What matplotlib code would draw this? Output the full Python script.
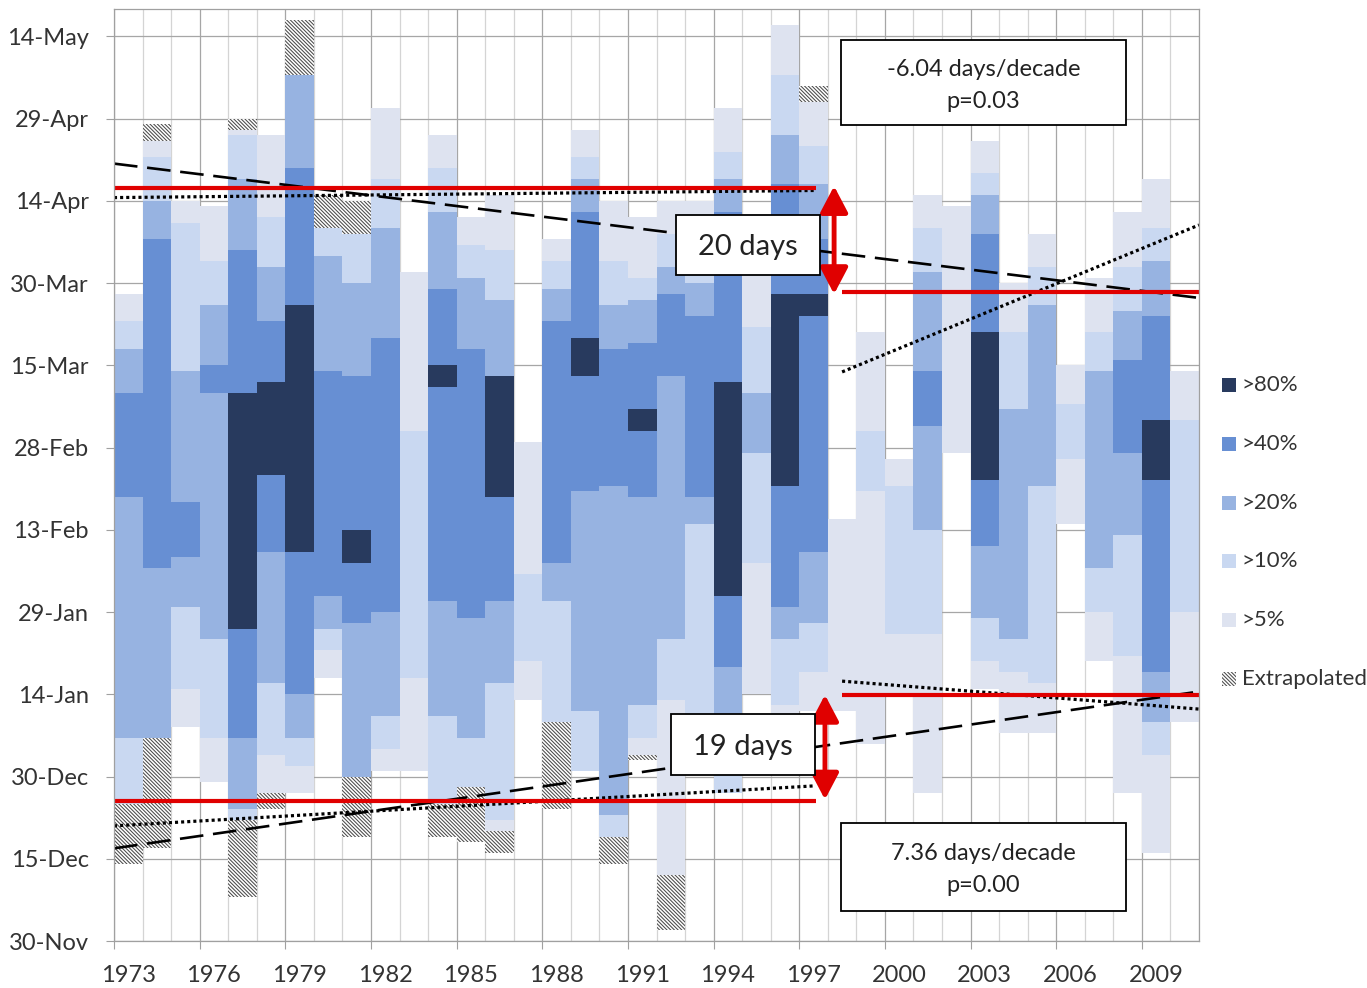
import matplotlib
matplotlib.use('Agg')
import matplotlib.pyplot as plt
from matplotlib.patches import Rectangle, FancyArrowPatch
import numpy as np

plt.rcParams['font.family'] = ['Lato', 'DejaVu Sans']
plt.rcParams['hatch.linewidth'] = 0.75
plt.rcParams['lines.scale_dashes'] = False

# ---------------- data ----------------
# y values are days after 30 November
date_ticks = [0, 15, 30, 45, 60, 75, 90, 105, 120, 135, 150, 165]
date_labels = ['30-Nov', '15-Dec', '30-Dec', '14-Jan', '29-Jan', '13-Feb',
               '28-Feb', '15-Mar', '30-Mar', '14-Apr', '29-Apr', '14-May']
year_labels = list(range(1973, 2010, 3))
years = list(range(1973, 2011))

level_names = {80: '>80%', 40: '>40%', 20: '>20%', 10: '>10%', 5: '>5%', 'E': 'Extrapolated'}
level_colors = {80: '#283a5e', 40: '#678fd3', 20: '#97b3e1', 10: '#c9d8f1', 5: '#dee3f0', 'E': 'white'}

# per year: segment edges from top to bottom (days), and level of each segment
e1973 = [118, 113, 108, 100, 81, 37, 25, 14];                 l1973 = [5, 10, 20, 40, 20, 10, 'E']
e1974 = [149, 146, 143, 135, 128, 68, 37, 17];                l1974 = ['E', 5, 10, 20, 40, 20, 'E']
e1975 = [135, 131, 104, 80, 70, 61, 46, 39];                  l1975 = [5, 10, 20, 40, 20, 10, 5]
e1976 = [134, 124, 116, 105, 100, 55, 37, 29];                l1976 = [5, 10, 20, 40, 20, 10, 5]
e1977 = [150, 148, 147, 139, 126, 100, 57, 37, 24, 22, 8];    l1977 = ['E', 5, 10, 20, 40, 80, 40, 20, 10, 'E']
e1978 = [147, 132, 123, 113, 102, 85, 71, 47, 34, 27, 24];    l1978 = [5, 10, 20, 40, 80, 40, 20, 10, 5, 'E']
e1979 = [168, 158, 141, 116, 71, 45, 37, 32, 27];             l1979 = ['E', 20, 40, 80, 40, 20, 10, 5]
e1980 = [136, 130, 125, 104, 63, 57, 53, 48];                 l1980 = ['E', 10, 20, 40, 20, 10, 5]
e1981 = [135, 129, 120, 103, 75, 69, 58, 30, 19];             l1981 = ['E', 10, 20, 40, 80, 40, 20, 'E']
e1982 = [152, 139, 130, 110, 60, 41, 35, 31];                 l1982 = [5, 10, 20, 40, 20, 10, 5]
e1983 = [122, 93, 48, 31];                                    l1983 = [5, 10, 5]
e1984 = [147, 141, 133, 119, 105, 101, 62, 41, 25, 19];       l1984 = [5, 10, 20, 40, 80, 40, 20, 10, 'E']
e1985 = [132, 127, 121, 108, 59, 37, 28, 18];                 l1985 = [5, 10, 20, 40, 20, 10, 'E']
e1986 = [136, 126, 117, 103, 81, 62, 47, 22, 20, 16];         l1986 = [5, 10, 20, 80, 40, 20, 10, 5, 'E']
e1987 = [91, 67, 51, 44];                                     l1987 = [5, 10, 5]
e1988 = [128, 124, 119, 113, 69, 62, 40, 24];                 l1988 = [5, 10, 20, 40, 20, 10, 'E']
e1989 = [148, 143, 139, 133, 110, 103, 82, 42, 31];           l1989 = [5, 10, 20, 40, 80, 40, 20, 10]
e1990 = [135, 124, 116, 108, 83, 23, 19, 14];                 l1990 = [5, 10, 20, 40, 20, 10, 'E']
e1991 = [132, 121, 117, 109, 97, 93, 81, 43, 37, 34, 33];     l1991 = [5, 10, 20, 40, 80, 40, 20, 10, 5, 'E']
e1992 = [135, 129, 123, 118, 103, 55, 44, 12, 2];             l1992 = [5, 10, 20, 40, 20, 10, 5, 'E']
e1993 = [135, 128, 120, 114, 81, 76, 41];                     l1993 = [5, 10, 20, 40, 20, 10]
e1994 = [152, 144, 139, 133, 102, 63, 50, 40, 27];            l1994 = [5, 10, 20, 40, 80, 40, 20, 10]
e1995 = [123, 112, 100, 89, 69, 45];                          l1995 = [5, 10, 20, 10, 5]
e1996 = [167, 158, 147, 138, 118, 83, 61, 55, 43, 41];        l1996 = [5, 10, 20, 40, 80, 40, 20, 10, 5]
e1997 = [156, 153, 145, 138, 128, 118, 114, 71, 58, 49, 42];  l1997 = ['E', 5, 10, 20, 40, 80, 40, 20, 10, 5]
e1998 = [77, 42];                                             l1998 = [5]
e1999 = [111, 93, 82, 36];                                    l1999 = [5, 10, 5]
e2000 = [88, 83, 56, 45];                                     l2000 = [5, 10, 5]
e2001 = [136, 130, 122, 104, 94, 75, 56, 27];                 l2001 = [5, 10, 20, 40, 20, 10, 5]
e2002 = [134, 89];                                            l2002 = [5]
e2003 = [146, 140, 136, 129, 111, 84, 72, 59, 51, 46];        l2003 = [5, 10, 20, 40, 80, 40, 20, 10, 5]
e2004 = [120, 111, 97, 55, 49, 38];                           l2004 = [5, 10, 20, 10, 5]
e2005 = [129, 123, 116, 83, 47, 38];                          l2005 = [5, 10, 20, 10, 5]
e2006 = [105, 98, 88, 76];                                    l2006 = [5, 10, 5]
e2007 = [121, 111, 104, 68, 60, 51];                          l2007 = [5, 10, 20, 10, 5]
e2008 = [133, 123, 115, 106, 89, 74, 52, 27];                 l2008 = [5, 10, 20, 40, 20, 10, 5]
e2009 = [139, 130, 124, 114, 95, 84, 49, 40, 34, 16];         l2009 = [5, 10, 20, 40, 80, 40, 20, 10, 5]
e2010 = [104, 95, 60, 40];                                    l2010 = [5, 10, 5]

# trend lines (x in years, y in days)
spring_trend_x = [1972.5, 2010.5];  spring_trend_y = [141.8, 117.3]
spring_early_x = [1972.5, 1997.05]; spring_early_y = [135.6, 136.9]
spring_late_x = [1998.0, 2010.5];   spring_late_y = [103.8, 130.6]
spring_mean_early = 137.4
spring_mean_late = 118.3
autumn_trend_x = [1972.5, 2010.5];  autumn_trend_y = [16.9, 45.5]
autumn_early_x = [1972.5, 1997.05]; autumn_early_y = [21.0, 28.3]
autumn_late_x = [1998.0, 2010.5];   autumn_late_y = [47.4, 42.3]
autumn_mean_early = 25.5
autumn_mean_late = 44.9
early_period = [1972.5, 1997.1]
late_period = [1998.0, 2010.5]

# ---------------- figure ----------------
W, H = 1367, 988
fig = plt.figure(figsize=(W / 100, H / 100), dpi=100)
ax = fig.add_axes([114 / W, 1 - 941 / H, 1085 / W, 932 / H])

HATCH = '\\' * 9
HATCH_COLOR = '#4a4a4a'

def fx(px):
    return px / W

def fy(py):
    return 1 - py / H

g = globals()
for yr in years:
    edges = g['e%d' % yr]
    levels = g['l%d' % yr]
    for top, bot, lev in zip(edges[:-1], edges[1:], levels):
        if lev == 'E':
            ax.bar(yr, top - bot, bottom=bot, width=1.0, color='white',
                   edgecolor=HATCH_COLOR, linewidth=0, hatch=HATCH, zorder=2)
        else:
            ax.bar(yr, top - bot, bottom=bot, width=1.0, color=level_colors[lev],
                   linewidth=0, zorder=2)

ax.set_xlim(1972.5, 2010.5)
ax.set_ylim(0, 170)

# axes styling
ax.set_axisbelow(True)
ax.set_yticks(date_ticks)
ax.set_yticklabels(date_labels, fontsize=17, color='#333333')
ax.tick_params(axis='y', length=6, width=0.8, color='#a0a0a0', pad=12)
ax.yaxis.grid(True, color='#a6a6a6', linewidth=0.9)

major_x = np.arange(1972.5, 2011, 3)
minor_x = np.arange(1972.5, 2011, 1)
ax.set_xticks(major_x)
ax.set_xticks(minor_x, minor=True)
ax.set_xticklabels([''] * len(major_x))
ax.tick_params(axis='x', which='major', length=5.5, width=0.8, color='#a0a0a0')
ax.tick_params(axis='x', which='minor', length=0)
ax.xaxis.grid(True, which='major', color='#a6a6a6', linewidth=0.9)
ax.xaxis.grid(True, which='minor', color='#d4d4d4', linewidth=0.9)
for s in ax.spines.values():
    s.set_color('#a0a0a0')
    s.set_linewidth(0.9)
    s.set_zorder(5)

sec = ax.secondary_xaxis('bottom')
sec.set_xticks(year_labels)
sec.set_xticklabels([str(y) for y in year_labels], fontsize=17, color='#333333')
sec.tick_params(length=0, pad=17)
sec.spines['bottom'].set_visible(False)

# trend lines
dash = (17, 7)
dot = (2.2, 2.2)
ax.plot(spring_trend_x, spring_trend_y, color='black', lw=1.9, dashes=dash, zorder=4)
ax.plot(autumn_trend_x, autumn_trend_y, color='black', lw=1.9, dashes=dash, zorder=4)
for xs, ys in [(spring_early_x, spring_early_y), (spring_late_x, spring_late_y),
               (autumn_early_x, autumn_early_y), (autumn_late_x, autumn_late_y)]:
    ax.plot(xs, ys, color='black', lw=2.3, dashes=dot, dash_capstyle='butt', zorder=4)

red = '#e00000'
ax.plot(early_period, [spring_mean_early] * 2, color=red, lw=3.0, solid_capstyle='butt', zorder=4)
ax.plot(late_period, [spring_mean_late] * 2, color=red, lw=3.0, solid_capstyle='butt', zorder=4)
ax.plot(early_period, [autumn_mean_early] * 2, color=red, lw=3.0, solid_capstyle='butt', zorder=4)
ax.plot(late_period, [autumn_mean_late] * 2, color=red, lw=3.0, solid_capstyle='butt', zorder=4)

# double arrows between period means
for xa, y0, y1 in [(1997.72, spring_mean_early + 0.3, spring_mean_late - 0.3),
                   (1997.4, autumn_mean_late, autumn_mean_early + 0.3)]:
    arr = FancyArrowPatch((xa, y0), (xa, y1), arrowstyle='<|-|>', mutation_scale=20,
                          color=red, lw=3.5, shrinkA=0, shrinkB=0, zorder=6)
    arr.set_arrowstyle('<|-|>', head_length=0.8, head_width=0.42)
    ax.add_patch(arr)

# annotation boxes (pixel layout)
def box(x0, y0, x1, y1, text, size, ls=1.35, dy=0):
    fig.add_artist(Rectangle((fx(x0), fy(y1)), fx(x1) - fx(x0), fy(y0) - fy(y1),
                             transform=fig.transFigure, facecolor='white',
                             edgecolor='black', linewidth=1.3, zorder=3))
    fig.text(fx((x0 + x1) / 2), fy((y0 + y1) / 2 + dy), text, ha='center', va='center',
             fontsize=size, linespacing=ls, color='#222222', zorder=4)

box(676, 215, 820, 275, '20 days', 21, dy=2)
box(671, 714, 815, 775, '19 days', 21, dy=2)
box(841, 40, 1126, 125, '-6.04 days/decade\np=0.03', 17, ls=1.62, dy=3)
box(841, 823, 1126, 911, '7.36 days/decade\np=0.00', 17, ls=1.62, dy=2.5)

# legend
legend_order = [80, 40, 20, 10, 5, 'E']
for i, lev in enumerate(legend_order):
    cy = 385 + i * 58.8
    if lev == 'E':
        fig.add_artist(Rectangle((fx(1222), fy(cy + 7)), fx(14), 14 / H,
                                 transform=fig.transFigure, facecolor='white',
                                 edgecolor=HATCH_COLOR, linewidth=0, hatch=HATCH))
    else:
        fig.add_artist(Rectangle((fx(1222), fy(cy + 7)), fx(14), 14 / H,
                                 transform=fig.transFigure, facecolor=level_colors[lev],
                                 linewidth=0))
    fig.text(fx(1242), fy(cy), level_names[lev], ha='left', va='center',
             fontsize=16, color='#333333')

fig.savefig('out.png', dpi=100)
